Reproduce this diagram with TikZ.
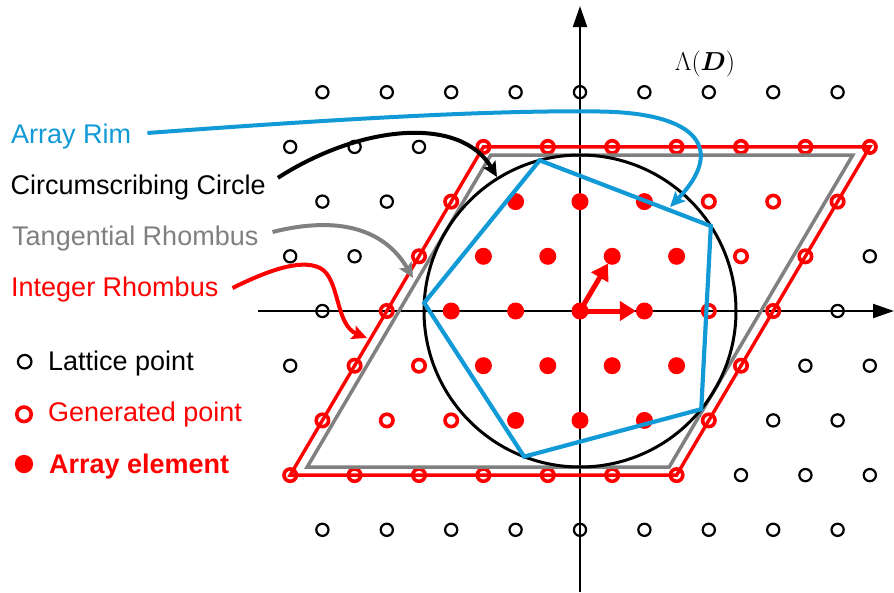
\RequirePackage{fix-cm}
\documentclass[tikz,border=0pt]{standalone}
\usepackage{fontspec}
\setmainfont{Liberation Sans}
\usepackage{bm}
\usetikzlibrary{arrows.meta}
\definecolor{rimblue}{RGB}{17,154,214}
\definecolor{tgray}{RGB}{128,128,128}
\definecolor{ired}{RGB}{255,0,0}
\begin{document}
\begin{tikzpicture}[x=1pt,y=-1pt,
  latt/.style={circle,draw=black,line width=2.2pt,minimum size=12.2pt,inner sep=0pt,outer sep=0pt},
  gen/.style={circle,draw=ired,line width=3.6pt,minimum size=12.4pt,inner sep=0pt,outer sep=0pt},
  elem/.style={circle,fill=ired,minimum size=17pt,inner sep=0pt,outer sep=0pt},
  lbl/.style={inner sep=0pt,font=\fontsize{27pt}{32pt}\selectfont,anchor=base west},
  conn/.style={line width=4pt,-{Stealth[length=15pt,width=14pt,inset=3pt]}},
  axisline/.style={line width=2pt,-{Triangle[length=21pt,width=14pt]}},
  basisarrow/.style={ired,line width=5pt,-{Triangle[length=16pt,width=19pt]}}
]
\useasboundingbox (0,0) rectangle (894,592);

% axes
\coordinate (xl) at (258,311);
\coordinate (xr) at (894,311);
\coordinate (yb) at (580,592);
\coordinate (yt) at (580,6);
\draw[axisline] (xl) -- (xr);
\draw[axisline] (yb) -- (yt);

% lattice points
\foreach \j in {-4,...,4}{
  \foreach \i in {-7,...,7}{
    \pgfmathsetmacro\px{580+64.4*\i+32.2*\j}
    \pgfmathsetmacro\py{311-54.7*\j}
    \pgfmathtruncatemacro\inR{(abs(\i)<=3)&&(abs(\j)<=3)}
    \pgfmathtruncatemacro\inF{((\j==2)&&(\i>=-2)&&(\i<=0))||((\j==1)&&(\i>=-2)&&(\i<=1))||((\j==0)&&(\i>=-2)&&(\i<=1))||((\j==-1)&&(\i>=-1)&&(\i<=2))||((\j==-2)&&(\i>=0)&&(\i<=2))}
    \pgfmathtruncatemacro\inX{(\px>280)&&(\px<880)}
    \ifnum\inF=1
      \node[elem] (p\i x\j) at (\px,\py) {};
    \else\ifnum\inR=1
      \node[gen] (p\i x\j) at (\px,\py) {};
    \else\ifnum\inX=1
      \node[latt] (p\i x\j) at (\px,\py) {};
    \fi\fi\fi
  }
}

% integer rhombus
\draw[ired,line width=3.4pt] (p-3x-3.center) -- (p3x-3.center) -- (p3x3.center) -- (p-3x3.center) -- cycle;

% tangential rhombus
\coordinate (t1) at (307.2,467);
\coordinate (t2) at (669.2,467);
\coordinate (t3) at (852.8,155);
\coordinate (t4) at (490.8,155);
\draw[tgray,line width=3.5pt] (t1) -- (t2) -- (t3) -- (t4) -- cycle;

% circumscribing circle
\node[circle,draw=black,line width=3pt,minimum size=312pt,inner sep=0pt,outer sep=0pt] (cc) at (p0x0.center) {};

% array rim (pentagon)
\draw[rimblue,line width=4.2pt] (cc.33) -- (cc.105) -- (cc.177) -- (cc.249) -- (cc.321) -- cycle;

% basis vectors
\draw[basisarrow] (p0x0.center) -- (p1x0);
\draw[basisarrow] (p0x0.center) -- (p0x1);

% labels
\node[lbl,text=rimblue] (rim) at (11,143) {Array Rim};
\node[lbl,text=black] (circ) at (10.5,194.8) {Circumscribing Circle};
\node[lbl,text=tgray] (tang) at (12,245) {Tangential Rhombus};
\node[lbl,text=ired] (intr) at (11,296) {Integer Rhombus};

% connector ends
\coordinate (rimEnd) at (670,207);
\coordinate (circEnd) at (497,177);
\coordinate (tangEnd) at (413,278);
\coordinate (intEnd) at (367,338);

\draw[conn,rimblue] ([xshift=16pt,yshift=10pt]rim.base east) .. controls (350,118) and (500,110) .. (600,111.5) .. controls (700,113) and (725,150) .. (rimEnd);
\draw[conn,black] ([xshift=12pt,yshift=17pt]circ.base east) .. controls (360,125) and (460,115) .. (circEnd);
\draw[conn,tgray] ([xshift=14pt,yshift=13pt]tang.base east) .. controls (340,215) and (385,230) .. (tangEnd);
\draw[conn,ired] ([xshift=14pt,yshift=8pt]intr.base east) .. controls (265,272) and (300,258) .. (320,268) .. controls (340,278) and (335,325) .. (intEnd);

% lattice name
\node[font=\fontsize{26pt}{31pt}\selectfont,anchor=base,inner sep=0pt] (lam) at (705,70) {$\Lambda(\bm{D})$};

% legend
\node[latt,minimum size=13.5pt] (legL) at (24.7,361.7) {};
\node[gen,minimum size=14.5pt] (legG) at (24,414.3) {};
\node[elem,minimum size=18.3pt] (legE) at (24,464) {};
\node[lbl,text=black] (legLt) at (48,370.5) {Lattice point};
\node[lbl,text=ired] (legGt) at (48,421.7) {Generated point};
\node[lbl,text=ired,font=\fontsize{27pt}{32pt}\selectfont\bfseries] (legEt) at (49,473) {Array element};
\end{tikzpicture}
\end{document}
